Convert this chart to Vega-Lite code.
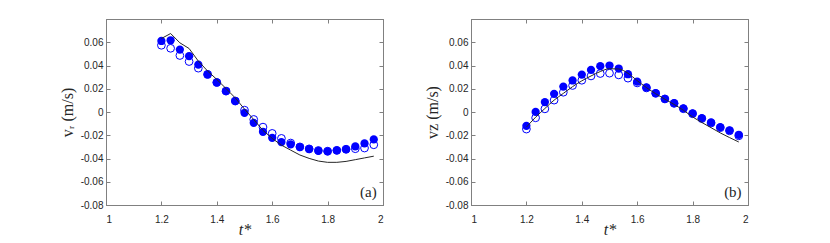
{
  "$schema": "https://vega.github.io/schema/vega-lite/v6.json",
  "background": "white",
  "padding": {"left": 58, "top": 18, "right": 5, "bottom": 5},
  "spacing": 88,
  "bounds": "flush",
  "config": {
    "view": {"stroke": "#808080", "strokeWidth": 1},
    "axis": {
      "grid": false,
      "domainColor": "#808080",
      "tickColor": "#808080",
      "tickSize": -4,
      "labelColor": "#262626",
      "labelFont": "Liberation Sans",
      "labelFontSize": 10,
      "titleFont": "Liberation Serif",
      "titleFontWeight": "normal",
      "titleFontSize": 16,
      "titleColor": "#262626"
    }
  },
  "datasets": {
    "a": [
      {"s": "open", "t": 1.2, "v": 0.0574}, {"s": "open", "t": 1.2333, "v": 0.0548}, {"s": "open", "t": 1.2667, "v": 0.0486}, {"s": "open", "t": 1.3, "v": 0.0434}, {"s": "open", "t": 1.3333, "v": 0.0377}, {"s": "open", "t": 1.3667, "v": 0.0322}, {"s": "open", "t": 1.4, "v": 0.0254}, {"s": "open", "t": 1.4333, "v": 0.018}, {"s": "open", "t": 1.4667, "v": 0.0095}, {"s": "open", "t": 1.5, "v": 0.0016}, {"s": "open", "t": 1.5333, "v": -0.0064}, {"s": "open", "t": 1.5667, "v": -0.013}, {"s": "open", "t": 1.6, "v": -0.0184}, {"s": "open", "t": 1.6333, "v": -0.0227}, {"s": "open", "t": 1.6667, "v": -0.0267}, {"s": "open", "t": 1.7, "v": -0.03}, {"s": "open", "t": 1.7333, "v": -0.0317}, {"s": "open", "t": 1.7667, "v": -0.0331}, {"s": "open", "t": 1.8, "v": -0.0337}, {"s": "open", "t": 1.8333, "v": -0.033}, {"s": "open", "t": 1.8667, "v": -0.032}, {"s": "open", "t": 1.9, "v": -0.0316}, {"s": "open", "t": 1.9333, "v": -0.031}, {"s": "open", "t": 1.9667, "v": -0.0282},
      {"s": "filled", "t": 1.2, "v": 0.0611}, {"s": "filled", "t": 1.2333, "v": 0.0617}, {"s": "filled", "t": 1.2667, "v": 0.0537}, {"s": "filled", "t": 1.3, "v": 0.048}, {"s": "filled", "t": 1.3333, "v": 0.0408}, {"s": "filled", "t": 1.3667, "v": 0.0325}, {"s": "filled", "t": 1.4, "v": 0.0254}, {"s": "filled", "t": 1.4333, "v": 0.0179}, {"s": "filled", "t": 1.4667, "v": 0.0093}, {"s": "filled", "t": 1.5, "v": -0.0007}, {"s": "filled", "t": 1.5333, "v": -0.0093}, {"s": "filled", "t": 1.5667, "v": -0.017}, {"s": "filled", "t": 1.6, "v": -0.0222}, {"s": "filled", "t": 1.6333, "v": -0.0259}, {"s": "filled", "t": 1.6667, "v": -0.0279}, {"s": "filled", "t": 1.7, "v": -0.0302}, {"s": "filled", "t": 1.7333, "v": -0.0319}, {"s": "filled", "t": 1.7667, "v": -0.0334}, {"s": "filled", "t": 1.8, "v": -0.0339}, {"s": "filled", "t": 1.8333, "v": -0.033}, {"s": "filled", "t": 1.8667, "v": -0.0322}, {"s": "filled", "t": 1.9, "v": -0.0296}, {"s": "filled", "t": 1.9333, "v": -0.027}, {"s": "filled", "t": 1.9667, "v": -0.0236},
      {"s": "line", "t": 1.2, "v": 0.0632}, {"s": "line", "t": 1.2333, "v": 0.0675}, {"s": "line", "t": 1.2667, "v": 0.0595}, {"s": "line", "t": 1.3, "v": 0.0546}, {"s": "line", "t": 1.3333, "v": 0.0438}, {"s": "line", "t": 1.3667, "v": 0.0353}, {"s": "line", "t": 1.4, "v": 0.028}, {"s": "line", "t": 1.4333, "v": 0.0202}, {"s": "line", "t": 1.4667, "v": 0.0121}, {"s": "line", "t": 1.5, "v": 0.0025}, {"s": "line", "t": 1.5333, "v": -0.0065}, {"s": "line", "t": 1.5667, "v": -0.0158}, {"s": "line", "t": 1.6, "v": -0.0227}, {"s": "line", "t": 1.6333, "v": -0.0285}, {"s": "line", "t": 1.6667, "v": -0.0328}, {"s": "line", "t": 1.7, "v": -0.037}, {"s": "line", "t": 1.7333, "v": -0.0399}, {"s": "line", "t": 1.7667, "v": -0.0422}, {"s": "line", "t": 1.8, "v": -0.0433}, {"s": "line", "t": 1.8333, "v": -0.0433}, {"s": "line", "t": 1.8667, "v": -0.0425}, {"s": "line", "t": 1.9, "v": -0.041}, {"s": "line", "t": 1.9333, "v": -0.0395}, {"s": "line", "t": 1.9667, "v": -0.038}
    ],
    "b": [
      {"s": "open", "t": 1.2, "v": -0.0147}, {"s": "open", "t": 1.2333, "v": -0.005}, {"s": "open", "t": 1.2667, "v": 0.0027}, {"s": "open", "t": 1.3, "v": 0.0102}, {"s": "open", "t": 1.3333, "v": 0.017}, {"s": "open", "t": 1.3667, "v": 0.0228}, {"s": "open", "t": 1.4, "v": 0.0273}, {"s": "open", "t": 1.4333, "v": 0.031}, {"s": "open", "t": 1.4667, "v": 0.0331}, {"s": "open", "t": 1.5, "v": 0.0334}, {"s": "open", "t": 1.5333, "v": 0.0319}, {"s": "open", "t": 1.5667, "v": 0.0291}, {"s": "open", "t": 1.6, "v": 0.025}, {"s": "open", "t": 1.6333, "v": 0.0207}, {"s": "open", "t": 1.6667, "v": 0.016}, {"s": "open", "t": 1.7, "v": 0.0112}, {"s": "open", "t": 1.7333, "v": 0.0074}, {"s": "open", "t": 1.7667, "v": 0.0028}, {"s": "open", "t": 1.8, "v": -0.0015}, {"s": "open", "t": 1.8333, "v": -0.0057}, {"s": "open", "t": 1.8667, "v": -0.0095}, {"s": "open", "t": 1.9, "v": -0.0135}, {"s": "open", "t": 1.9333, "v": -0.0162}, {"s": "open", "t": 1.9667, "v": -0.0205},
      {"s": "filled", "t": 1.2, "v": -0.0119}, {"s": "filled", "t": 1.2333, "v": 0.0001}, {"s": "filled", "t": 1.2667, "v": 0.0085}, {"s": "filled", "t": 1.3, "v": 0.0156}, {"s": "filled", "t": 1.3333, "v": 0.0219}, {"s": "filled", "t": 1.3667, "v": 0.0271}, {"s": "filled", "t": 1.4, "v": 0.0322}, {"s": "filled", "t": 1.4333, "v": 0.0362}, {"s": "filled", "t": 1.4667, "v": 0.0394}, {"s": "filled", "t": 1.5, "v": 0.04}, {"s": "filled", "t": 1.5333, "v": 0.0374}, {"s": "filled", "t": 1.5667, "v": 0.0325}, {"s": "filled", "t": 1.6, "v": 0.0262}, {"s": "filled", "t": 1.6333, "v": 0.0211}, {"s": "filled", "t": 1.6667, "v": 0.0162}, {"s": "filled", "t": 1.7, "v": 0.0113}, {"s": "filled", "t": 1.7333, "v": 0.0076}, {"s": "filled", "t": 1.7667, "v": 0.0031}, {"s": "filled", "t": 1.8, "v": -0.0012}, {"s": "filled", "t": 1.8333, "v": -0.0053}, {"s": "filled", "t": 1.8667, "v": -0.009}, {"s": "filled", "t": 1.9, "v": -0.013}, {"s": "filled", "t": 1.9333, "v": -0.0157}, {"s": "filled", "t": 1.9667, "v": -0.0196},
      {"s": "line", "t": 1.2, "v": -0.013}, {"s": "line", "t": 1.2333, "v": -0.0045}, {"s": "line", "t": 1.2667, "v": 0.003}, {"s": "line", "t": 1.3, "v": 0.0102}, {"s": "line", "t": 1.3333, "v": 0.016}, {"s": "line", "t": 1.3667, "v": 0.0218}, {"s": "line", "t": 1.4, "v": 0.0268}, {"s": "line", "t": 1.4333, "v": 0.031}, {"s": "line", "t": 1.4667, "v": 0.0348}, {"s": "line", "t": 1.5, "v": 0.0372}, {"s": "line", "t": 1.5333, "v": 0.037}, {"s": "line", "t": 1.5667, "v": 0.0333}, {"s": "line", "t": 1.6, "v": 0.027}, {"s": "line", "t": 1.6333, "v": 0.021}, {"s": "line", "t": 1.6667, "v": 0.0157}, {"s": "line", "t": 1.7, "v": 0.011}, {"s": "line", "t": 1.7333, "v": 0.0065}, {"s": "line", "t": 1.7667, "v": 0.0015}, {"s": "line", "t": 1.8, "v": -0.0042}, {"s": "line", "t": 1.8333, "v": -0.009}, {"s": "line", "t": 1.8667, "v": -0.0135}, {"s": "line", "t": 1.9, "v": -0.018}, {"s": "line", "t": 1.9333, "v": -0.022}, {"s": "line", "t": 1.9667, "v": -0.0258}
    ],
    "labels": [
      {"panel": "a", "t": 1.977, "v": -0.0688, "label": "(a)"},
      {"panel": "b", "t": 1.977, "v": -0.0688, "label": "(b)"}
    ]
  },
  "hconcat": [
    {
      "width": 277,
      "height": 186,
      "data": {"name": "a"},
      "layer": [
        {
          "transform": [{"filter": "datum.s == 'open'"}],
          "mark": {"type": "point", "shape": "circle", "filled": false, "size": 60, "strokeWidth": 1, "color": "#0000ff", "opacity": 1},
          "encoding": {
            "x": {"field": "t", "type": "quantitative", "scale": {"domain": [1, 2], "nice": false},
              "axis": {"orient": "bottom", "values": [1, 1.2, 1.4, 1.6, 1.8, 2], "format": "~f", "labelPadding": 13, "title": "t*", "titleFontStyle": "italic", "titlePadding": -3}},
            "y": {"field": "v", "type": "quantitative", "scale": {"domain": [-0.08, 0.08], "nice": false},
              "axis": {"orient": "left", "values": [-0.08, -0.06, -0.04, -0.02, 0, 0.02, 0.04, 0.06], "labelExpr": "replace(format(datum.value, '~f'), '\u2212', '-')", "labelPadding": 7, "title": "vᵣ (m/s)", "titlePadding": 5}}
          }
        },
        {
          "transform": [{"filter": "datum.s == 'filled'"}],
          "mark": {"type": "point", "shape": "circle", "filled": true, "size": 68, "color": "#0000ff", "opacity": 1},
          "encoding": {
            "x": {"field": "t", "type": "quantitative", "axis": null},
            "y": {"field": "v", "type": "quantitative", "axis": null}
          }
        },
        {
          "transform": [{"filter": "datum.s == 'line'"}],
          "mark": {"type": "line", "color": "#262626", "strokeWidth": 1, "interpolate": "linear"},
          "encoding": {
            "x": {"field": "t", "type": "quantitative", "axis": null},
            "y": {"field": "v", "type": "quantitative", "axis": null}
          }
        },
        {
          "data": {"name": "labels"},
          "transform": [{"filter": "datum.panel == 'a'"}],
          "mark": {"type": "text", "align": "right", "baseline": "middle", "font": "Liberation Serif", "fontSize": 15, "color": "#262626"},
          "encoding": {
            "x": {"field": "t", "type": "quantitative", "axis": {"orient": "top", "values": [1, 1.2, 1.4, 1.6, 1.8, 2], "labels": false, "title": null}},
            "y": {"field": "v", "type": "quantitative", "axis": {"orient": "right", "values": [-0.08, -0.06, -0.04, -0.02, 0, 0.02, 0.04, 0.06], "labels": false, "title": null}},
            "text": {"field": "label"}
          }
        }
      ],
      "resolve": {"axis": {"x": "independent", "y": "independent"}}
    },
    {
      "width": 277,
      "height": 186,
      "data": {"name": "b"},
      "layer": [
        {
          "transform": [{"filter": "datum.s == 'open'"}],
          "mark": {"type": "point", "shape": "circle", "filled": false, "size": 60, "strokeWidth": 1, "color": "#0000ff", "opacity": 1},
          "encoding": {
            "x": {"field": "t", "type": "quantitative", "scale": {"domain": [1, 2], "nice": false},
              "axis": {"orient": "bottom", "values": [1, 1.2, 1.4, 1.6, 1.8, 2], "format": "~f", "labelPadding": 13, "title": "t*", "titleFontStyle": "italic", "titlePadding": -3}},
            "y": {"field": "v", "type": "quantitative", "scale": {"domain": [-0.08, 0.08], "nice": false},
              "axis": {"orient": "left", "values": [-0.08, -0.06, -0.04, -0.02, 0, 0.02, 0.04, 0.06], "labelExpr": "replace(format(datum.value, '~f'), '\u2212', '-')", "labelPadding": 7, "title": "vz (m/s)", "titlePadding": 5}}
          }
        },
        {
          "transform": [{"filter": "datum.s == 'filled'"}],
          "mark": {"type": "point", "shape": "circle", "filled": true, "size": 68, "color": "#0000ff", "opacity": 1},
          "encoding": {
            "x": {"field": "t", "type": "quantitative", "axis": null},
            "y": {"field": "v", "type": "quantitative", "axis": null}
          }
        },
        {
          "transform": [{"filter": "datum.s == 'line'"}],
          "mark": {"type": "line", "color": "#262626", "strokeWidth": 1, "interpolate": "monotone"},
          "encoding": {
            "x": {"field": "t", "type": "quantitative", "axis": null},
            "y": {"field": "v", "type": "quantitative", "axis": null}
          }
        },
        {
          "data": {"name": "labels"},
          "transform": [{"filter": "datum.panel == 'b'"}],
          "mark": {"type": "text", "align": "right", "baseline": "middle", "font": "Liberation Serif", "fontSize": 15, "color": "#262626"},
          "encoding": {
            "x": {"field": "t", "type": "quantitative", "axis": {"orient": "top", "values": [1, 1.2, 1.4, 1.6, 1.8, 2], "labels": false, "title": null}},
            "y": {"field": "v", "type": "quantitative", "axis": {"orient": "right", "values": [-0.08, -0.06, -0.04, -0.02, 0, 0.02, 0.04, 0.06], "labels": false, "title": null}},
            "text": {"field": "label"}
          }
        }
      ],
      "resolve": {"axis": {"x": "independent", "y": "independent"}}
    }
  ]
}
